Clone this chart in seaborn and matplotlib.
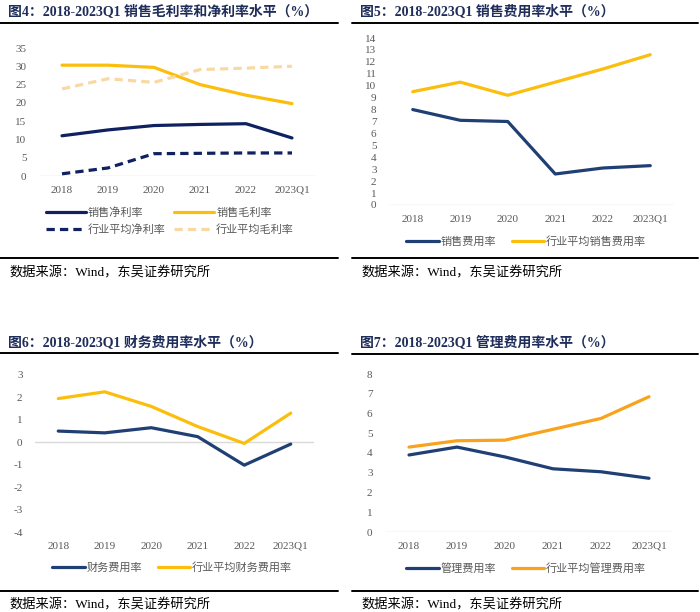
import pandas as pd
import matplotlib
matplotlib.use("Agg")
import matplotlib.pyplot as plt
import seaborn as sns
from matplotlib.lines import Line2D

sns.set_theme(style="white")
plt.rcParams["font.family"] = ["Liberation Serif", "Noto Sans CJK SC", "DejaVu Sans"]
plt.rcParams["axes.unicode_minus"] = False

# ---- data ----
years = ["2018", "2019", "2020", "2021", "2022", "2023Q1"]

net_margin = [11.0, 12.6, 13.8, 14.1, 14.3, 10.4]
gross_margin = [30.3, 30.3, 29.7, 25.0, 22.1, 19.8]
ind_net_margin = [0.6, 2.2, 6.1, 6.2, 6.3, 6.3]
ind_gross_margin = [23.8, 26.6, 25.6, 29.1, 29.5, 30.0]

sell_exp = [8.0, 7.1, 7.0, 2.6, 3.1, 3.3]
ind_sell_exp = [9.5, 10.3, 9.2, 10.3, 11.4, 12.6]

fin_exp = [0.50, 0.42, 0.65, 0.25, -1.02, -0.08]
ind_fin_exp = [1.95, 2.25, 1.60, 0.70, -0.05, 1.30]

mgmt_exp = [3.90, 4.30, 3.80, 3.20, 3.05, 2.72]
ind_mgmt_exp = [4.30, 4.62, 4.65, 5.20, 5.75, 6.85]

NAVY = "#0f2160"
NAVY2 = "#1f3f75"
YELLOW = "#fcbe0c"
PEACH = "#f9d9a3"
ORANGE = "#f9a21b"
GREY_TXT = "#595959"
TITLE_C = "#1f2d5a"

W, H = 700, 612
fig = plt.figure(figsize=(W / 100, H / 100), dpi=100)


def frac(l, t, r, b):
    return [l / W, 1 - b / H, (r - l) / W, (b - t) / H]


def hline(x0, x1, y, lw=1.4):
    fig.add_artist(Line2D([x0 / W, x1 / W], [1 - y / H, 1 - y / H], color="black", lw=lw,
                          transform=fig.transFigure))


def panel_frame(x0, x1, title, title_y, rule_y, bottom_y, src_y):
    fig.text((x0 + 8) / W, 1 - title_y / H, title, fontsize=10, fontweight="bold",
             color=TITLE_C, va="center", ha="left")
    hline(x0, x1, rule_y)
    hline(x0, x1, bottom_y)
    fig.text((x0 + 9) / W, 1 - src_y / H, "数据来源：Wind，东吴证券研究所", fontsize=9.5,
             color="black", va="center", ha="left")


def make_axes(rect, ylim, yticks):
    ax = fig.add_axes(frac(*rect))
    ax.set_xlim(-0.5, 5.5)
    ax.set_ylim(*ylim)
    ax.set_yticks(yticks)
    ax.set_yticklabels([str(v) for v in yticks])
    for s in ax.spines.values():
        s.set_visible(False)
    ax.axhline(0, color="#d9d9d9", lw=1.0, zorder=0)
    ax.tick_params(axis="both", length=0, labelsize=8, labelcolor=GREY_TXT)
    ax.tick_params(axis="y", pad=9)
    ax.tick_params(axis="x", pad=7)
    ax.grid(False)
    return ax


def draw(ax, values, color, label, dashed=False, lw=2.3):
    df = pd.DataFrame({"year": years, "v": values})
    sns.lineplot(data=df, x="year", y="v", ax=ax, color=color, lw=lw, label=label,
                 legend=False, sort=False)
    if dashed:
        ax.lines[-1].set_linestyle((0, (2.6, 1.6)))
    ax.set_xticks(range(len(years)))
    ax.set_xticklabels(years)
    ax.set_xlabel("")
    ax.set_ylabel("")


def add_legend(ax, cx, cy, ncol, colsp, hl=3.0, spacing=0.6, order=None):
    handles, labels = ax.get_legend_handles_labels()
    if order is not None:
        handles = [handles[i] for i in order]
        labels = [labels[i] for i in order]
    leg = ax.legend(handles, labels, loc="center", bbox_to_anchor=(cx / W, 1 - cy / H),
                    bbox_transform=fig.transFigure, ncol=ncol, frameon=False,
                    fontsize=8, handlelength=hl, handletextpad=0.15,
                    columnspacing=colsp, labelspacing=spacing)
    for t in leg.get_texts():
        t.set_color(GREY_TXT)
    return leg


# ---- figure 4 (top-left) ----
panel_frame(0, 338, "图4：2018-2023Q1 销售毛利率和净利率水平（%）", 11, 23, 258, 273)
ax1 = make_axes((39, 48, 315, 176), (0, 35), list(range(0, 36, 5)))
draw(ax1, net_margin, NAVY, "销售净利率")
draw(ax1, gross_margin, YELLOW, "销售毛利率")
draw(ax1, ind_net_margin, NAVY, "行业平均净利率", dashed=True)
draw(ax1, ind_gross_margin, PEACH, "行业平均毛利率", dashed=True)
add_legend(ax1, 170, 221, 2, 0.8, hl=3.6, spacing=0.55, order=[0, 2, 1, 3])

# ---- figure 5 (top-right) ----
panel_frame(352, 698, "图5：2018-2023Q1 销售费用率水平（%）", 11, 23, 258, 273)
ax2 = make_axes((389, 38, 674, 205), (0, 14), list(range(0, 15)))
draw(ax2, sell_exp, NAVY2, "销售费用率")
draw(ax2, ind_sell_exp, YELLOW, "行业平均销售费用率")
add_legend(ax2, 526, 241, 2, 1.4, hl=2.9)

# ---- figure 6 (bottom-left) ----
panel_frame(0, 338, "图6：2018-2023Q1 财务费用率水平（%）", 342, 353, 591, 605)
ax3 = make_axes((35, 375, 314, 532), (-4, 3), list(range(-4, 4)))
draw(ax3, fin_exp, NAVY2, "财务费用率")
draw(ax3, ind_fin_exp, YELLOW, "行业平均财务费用率")
add_legend(ax3, 172, 567, 2, 1.4, hl=2.9)

# ---- figure 7 (bottom-right) ----
panel_frame(352, 698, "图7：2018-2023Q1 管理费用率水平（%）", 342, 354, 591, 605)
ax4 = make_axes((385, 374, 673, 532), (0, 8), list(range(0, 9)))
draw(ax4, mgmt_exp, NAVY2, "管理费用率")
draw(ax4, ind_mgmt_exp, ORANGE, "行业平均管理费用率")
add_legend(ax4, 526, 568, 2, 1.4, hl=2.9)

fig.savefig("out.png", dpi=100, facecolor="white")
